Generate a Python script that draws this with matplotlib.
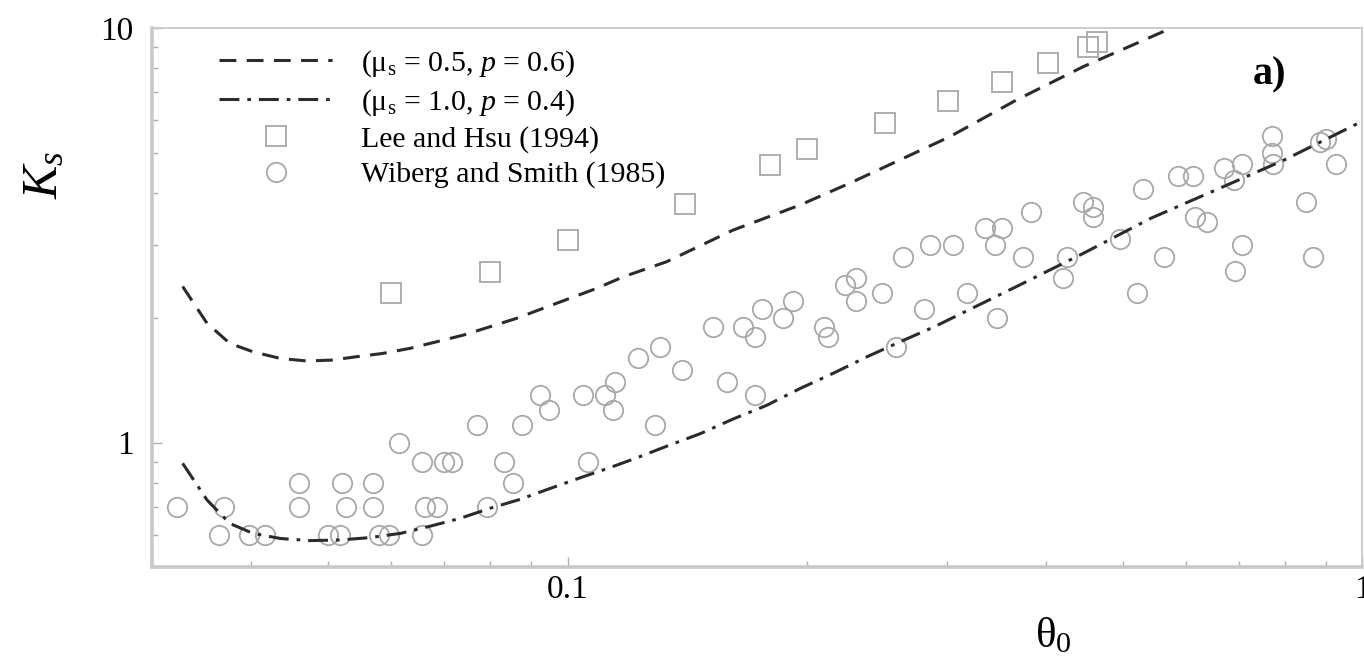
#!/usr/bin/env python3
"""Ks versus theta_0 on log-log axes: two model curves and two data sets."""

import matplotlib
matplotlib.use('Agg')
import matplotlib.pyplot as plt
from matplotlib.ticker import FixedLocator, FixedFormatter, NullFormatter

plt.rcParams['font.family'] = ['Liberation Serif', 'DejaVu Serif']
plt.rcParams['mathtext.fontset'] = 'custom'
plt.rcParams['mathtext.rm'] = 'Liberation Serif'
plt.rcParams['mathtext.it'] = 'Liberation Serif:italic'

# model curve (mu_s = 0.5, p = 0.6)
curve1_theta = [0.0328, 0.0352, 0.0376, 0.0402, 0.0435, 0.0470, 0.0505, 0.0543,
                0.0586, 0.0634, 0.0685, 0.0740, 0.0799, 0.0863, 0.0932, 0.1007,
                0.1088, 0.1176, 0.1333, 0.1616, 0.1961, 0.2286, 0.3027, 0.3673,
                0.4454, 0.5673]
curve1_ks = [2.38, 1.94, 1.735, 1.656, 1.596, 1.573, 1.581, 1.611,
             1.641, 1.688, 1.751, 1.817, 1.903, 1.994, 2.108, 2.228,
             2.355, 2.512, 2.731, 3.256, 3.741, 4.258, 5.47, 6.71,
             8.07, 9.89]

# model curve (mu_s = 1.0, p = 0.4)
curve2_theta = [0.0328, 0.0352, 0.0376, 0.0402, 0.0435, 0.0474, 0.0518, 0.0565,
                0.0617, 0.0671, 0.0732, 0.0799, 0.0873, 0.0951, 0.1037, 0.1131,
                0.1234, 0.1333, 0.1468, 0.1616, 0.1781, 0.1961, 0.2160, 0.2380,
                0.2620, 0.2889, 0.3673, 0.4454, 0.5406, 0.6562, 0.7962, 0.9962]
curve2_ks = [0.891, 0.727, 0.638, 0.604, 0.587, 0.580, 0.582, 0.590,
             0.604, 0.628, 0.656, 0.694, 0.730, 0.775, 0.822, 0.870,
             0.925, 0.980, 1.05, 1.14, 1.23, 1.35, 1.47, 1.61,
             1.75, 1.90, 2.38, 2.86, 3.47, 4.08, 4.80, 5.94]

# Lee and Hsu (1994)
lee_theta = [0.060, 0.080, 0.100, 0.1405, 0.180, 0.200, 0.251, 0.301,
             0.352, 0.402, 0.452, 0.463]
lee_ks = [2.29, 2.58, 3.08, 3.76, 4.68, 5.10, 5.90, 6.65,
          7.39, 8.24, 9.01, 9.25]

# Wiberg and Smith (1985)
wiberg_theta = [0.0323, 0.0364, 0.0370, 0.0398, 0.0416, 0.0460, 0.0460, 0.0500,
                0.0517, 0.0521, 0.0527, 0.0569, 0.0569, 0.0580, 0.0597, 0.0614,
                0.0657, 0.0657, 0.0662, 0.0685, 0.0700, 0.0715, 0.0769, 0.0791,
                0.0832, 0.0855, 0.0876, 0.0924, 0.0949, 0.1047, 0.1062, 0.1115,
                0.1142, 0.1147, 0.1227, 0.1288, 0.1307, 0.1392, 0.1526, 0.1586,
                0.1664, 0.1721, 0.1721, 0.1755, 0.1865, 0.1920, 0.2102, 0.2128,
                0.2234, 0.2307, 0.2307, 0.2485, 0.2590, 0.2641, 0.2808, 0.2858,
                0.3057, 0.3183, 0.3351, 0.3450, 0.3467, 0.3518, 0.3738, 0.3828,
                0.4204, 0.4245, 0.4453, 0.4576, 0.4585, 0.4955, 0.5200, 0.5291,
                0.5627, 0.5865, 0.6126, 0.6156, 0.6377, 0.6697, 0.6895, 0.6914,
                0.7047, 0.7047, 0.7690, 0.7690, 0.7709, 0.8490, 0.8658, 0.8842,
                0.8997, 0.9262]
wiberg_ks = [0.7, 0.6, 0.7, 0.6, 0.6, 0.8, 0.7, 0.6,
             0.6, 0.8, 0.7, 0.8, 0.7, 0.6, 0.6, 1.0,
             0.9, 0.6, 0.7, 0.7, 0.9, 0.9, 1.1, 0.7,
             0.9, 0.8, 1.1, 1.3, 1.2, 1.3, 0.9, 1.3,
             1.2, 1.4, 1.6, 1.1, 1.7, 1.5, 1.9, 1.4,
             1.9, 1.8, 1.3, 2.1, 2.0, 2.2, 1.9, 1.8,
             2.4, 2.5, 2.2, 2.3, 1.7, 2.8, 2.1, 3.0,
             3.0, 2.3, 3.3, 3.0, 2.0, 3.3, 2.8, 3.6,
             2.5, 2.8, 3.8, 3.7, 3.5, 3.1, 2.3, 4.1,
             2.8, 4.4, 4.4, 3.5, 3.4, 4.6, 4.3, 2.6,
             4.7, 3.0, 5.5, 5.0, 4.7, 3.8, 2.8, 5.3,
             5.4, 4.7]

legend_labels = [r'(μ$_{\rm s}$ = 0.5, $p$ = 0.6)', r'(μ$_{\rm s}$ = 1.0, $p$ = 0.4)',
                 'Lee and Hsu (1994)', 'Wiberg and Smith (1985)']

x_major = [0.1, 1]
x_major_labels = ['0.1', '1']
y_major = [1, 10]
y_major_labels = ['1', '10']

line_color = '#2b2b2b'
marker_color = '#a8a8a8'
spine_color = '#c9c9c9'

fig = plt.figure(figsize=(13.64, 6.63), dpi=100)
ax = fig.add_axes([0.1113, 0.1443, 0.8876, 0.8134])
ax.set_xscale('log')
ax.set_yscale('log')

sq, = ax.plot(lee_theta, lee_ks, ls='none', marker='s', ms=14.5, mfc='none',
              mec=marker_color, mew=1.3, zorder=2)
ci, = ax.plot(wiberg_theta, wiberg_ks, ls='none', marker='o', ms=14, mfc='none',
              mec=marker_color, mew=1.3, zorder=2)
l1, = ax.plot(curve1_theta, curve1_ks, color=line_color, lw=2.2,
              dashes=(5.5, 3.4), zorder=3)
l2, = ax.plot(curve2_theta, curve2_ks, color=line_color, lw=2.2,
              dashes=(6.5, 2.6, 1.2, 2.6), zorder=3)

ax.set_xlim(0.03, 1)
ax.set_ylim(0.5, 10)

ax.xaxis.set_major_locator(FixedLocator(x_major))
ax.xaxis.set_major_formatter(FixedFormatter(x_major_labels))
ax.yaxis.set_major_locator(FixedLocator(y_major))
ax.yaxis.set_major_formatter(FixedFormatter(y_major_labels))
ax.xaxis.set_minor_formatter(NullFormatter())
ax.yaxis.set_minor_formatter(NullFormatter())

ax.tick_params(which='both', direction='in', color='#b0b0b0', width=1,
               labelsize=24)
ax.tick_params(which='major', length=7)
ax.tick_params(which='minor', length=4)
ax.tick_params(axis='x', pad=5)
ax.tick_params(axis='y', pad=13)

for side in ['left', 'bottom']:
    ax.spines[side].set_color(spine_color)
    ax.spines[side].set_linewidth(2.6)
for side in ['top', 'right']:
    ax.spines[side].set_color(spine_color)
    ax.spines[side].set_linewidth(1.3)

ax.text(-0.0882, 0.7284, r'$K_s$', transform=ax.transAxes, rotation=90,
        ha='center', va='center', fontsize=36)
ax.text(0.745, -0.129, r'θ$_{\rm 0}$', transform=ax.transAxes,
        ha='center', va='center', fontsize=31)
ax.text(0.923, 0.913, 'a)', transform=ax.transAxes, ha='center', va='center',
        fontsize=29, fontweight='bold')

ax.legend([l1, l2, sq, ci], legend_labels,
          loc='upper left', bbox_to_anchor=(0.0555, 0.962), frameon=False,
          fontsize=21.5, borderpad=0, borderaxespad=0, labelspacing=0.27,
          handlelength=3.8, handletextpad=0.95)

fig.savefig('out.png', dpi=100)
